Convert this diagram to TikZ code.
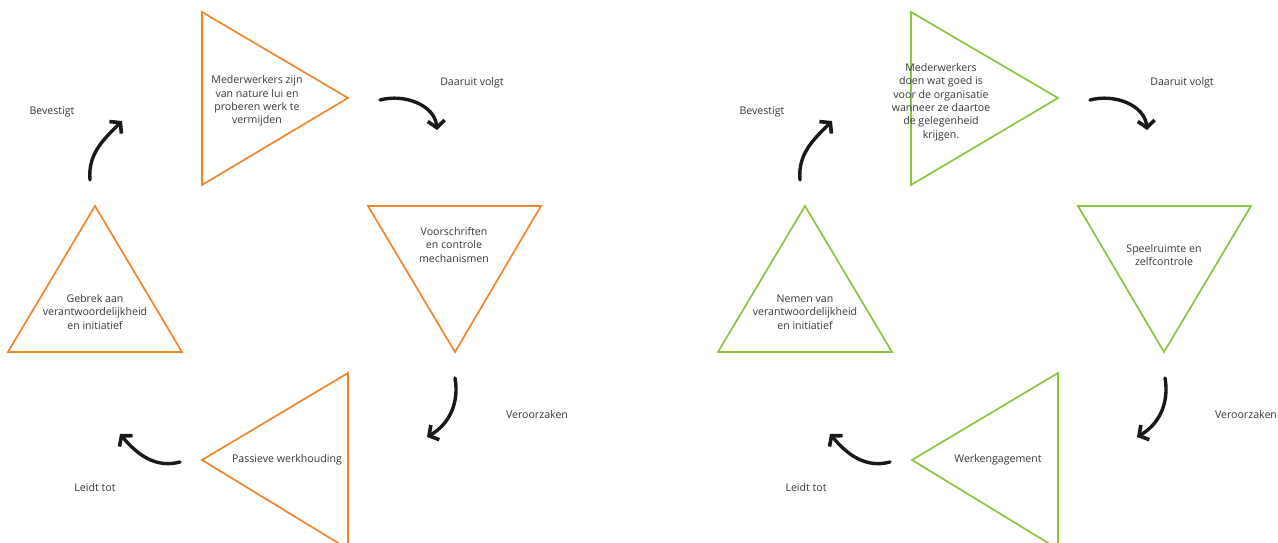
\documentclass[tikz,border=0pt]{standalone}
\usepackage{fontspec}
\setmainfont{Open Sans}
\usetikzlibrary{arrows.meta}
\definecolor{cycOrange}{RGB}{242,134,42}
\definecolor{cycGreen}{RGB}{140,198,63}
\definecolor{txtGray}{RGB}{55,55,55}
\begin{document}
\begin{tikzpicture}[x=1pt, y=1pt,
        tri/.style={line width=1.7pt, line join=miter},
        txt/.style={font=\fontsize{10.6}{13.4}\selectfont, text=txtGray, align=center, inner sep=0pt},
        brush/.style={line width=3.4pt, line cap=round, draw=black!90,
          -{Straight Barb[length=7pt, width=17pt, line width=3.6pt]}}
        ]
      \useasboundingbox (0,0) rectangle (1278,543);
      % theory X (left cycle)
      \draw[tri, cycOrange] (202,531) -- (202,358) -- (348,445) -- cycle;
      \draw[tri, cycOrange] (368,337) -- (541,337) -- (455,191) -- cycle;
      \draw[tri, cycOrange] (348,170) -- (348,-6) -- (202,83) -- cycle;
      \draw[tri, cycOrange] (8,191) -- (182,191) -- (95,337) -- cycle;
      \node[txt] (lazy) at (257,442) {Mederwerkers zijn\\van nature lui en\\proberen werk te\\vermijden};
      \node[txt] (rules) at (454,298) {Voorschriften\\en controle\\mechanismen};
      \node[txt] (passive) at (287,83) {Passieve werkhouding};
      \node[txt] (noresp) at (95,231) {Gebrek aan\\verantwoordelijkheid\\en initiatief};
      \node[txt] (follows1) at (472,460) {Daaruit volgt};
      \node[txt] (causes1) at (537,128) {Veroorzaken};
      \node[txt] (leads1) at (95,55) {Leidt tot};
      \node[txt] (confirms1) at (52,431) {Bevestigt};
      \coordinate (a1s) at (380,443);
      \coordinate (a1e) at (437,413);
      \coordinate (a2s) at (455,165);
      \coordinate (a2e) at (427,106);
      \coordinate (a3s) at (180,81);
      \coordinate (a3e) at (120,109);
      \coordinate (a4s) at (90,363);
      \coordinate (a4e) at (122,422);
      \draw[brush] (a1s) to[out=15, in=95] (a1e);
      \draw[brush] (a2s) to[out=-80, in=30] (a2e);
      \draw[brush] (a3s) to[out=195, in=-50] (a3e);
      \draw[brush] (a4s) to[out=95, in=-135] (a4e);
      % theory Y (right cycle)
      \draw[tri, cycGreen] (911,531) -- (911,358) -- (1058,445) -- cycle;
      \draw[tri, cycGreen] (1078,337) -- (1251,337) -- (1164,191) -- cycle;
      \draw[tri, cycGreen] (1058,170) -- (1058,-6) -- (912,83) -- cycle;
      \draw[tri, cycGreen] (718,191) -- (892,191) -- (805,337) -- cycle;
      \node[txt] (good) at (941,441) {Mederwerkers\\doen wat goed is\\voor de organisatie\\wanneer ze daartoe\\de gelegenheid\\krijgen.};
      \node[txt] (room) at (1164,288) {Speelruimte en\\zelfcontrole};
      \node[txt] (engage) at (998,83) {Werkengagement};
      \node[txt] (resp) at (805,231) {Nemen van\\verantwoordelijkheid\\en initiatief};
      \node[txt] (follows2) at (1182,460) {Daaruit volgt};
      \node[txt] (causes2) at (1246,128) {Veroorzaken};
      \node[txt] (leads2) at (806,55) {Leidt tot};
      \node[txt] (confirms2) at (762,431) {Bevestigt};
      \coordinate (b1s) at (1090,443);
      \coordinate (b1e) at (1147,413);
      \coordinate (b2s) at (1165,165);
      \coordinate (b2e) at (1137,106);
      \coordinate (b3s) at (890,81);
      \coordinate (b3e) at (830,109);
      \coordinate (b4s) at (800,363);
      \coordinate (b4e) at (832,422);
      \draw[brush] (b1s) to[out=15, in=95] (b1e);
      \draw[brush] (b2s) to[out=-80, in=30] (b2e);
      \draw[brush] (b3s) to[out=195, in=-50] (b3e);
      \draw[brush] (b4s) to[out=95, in=-135] (b4e);
    \end{tikzpicture}
\end{document}
